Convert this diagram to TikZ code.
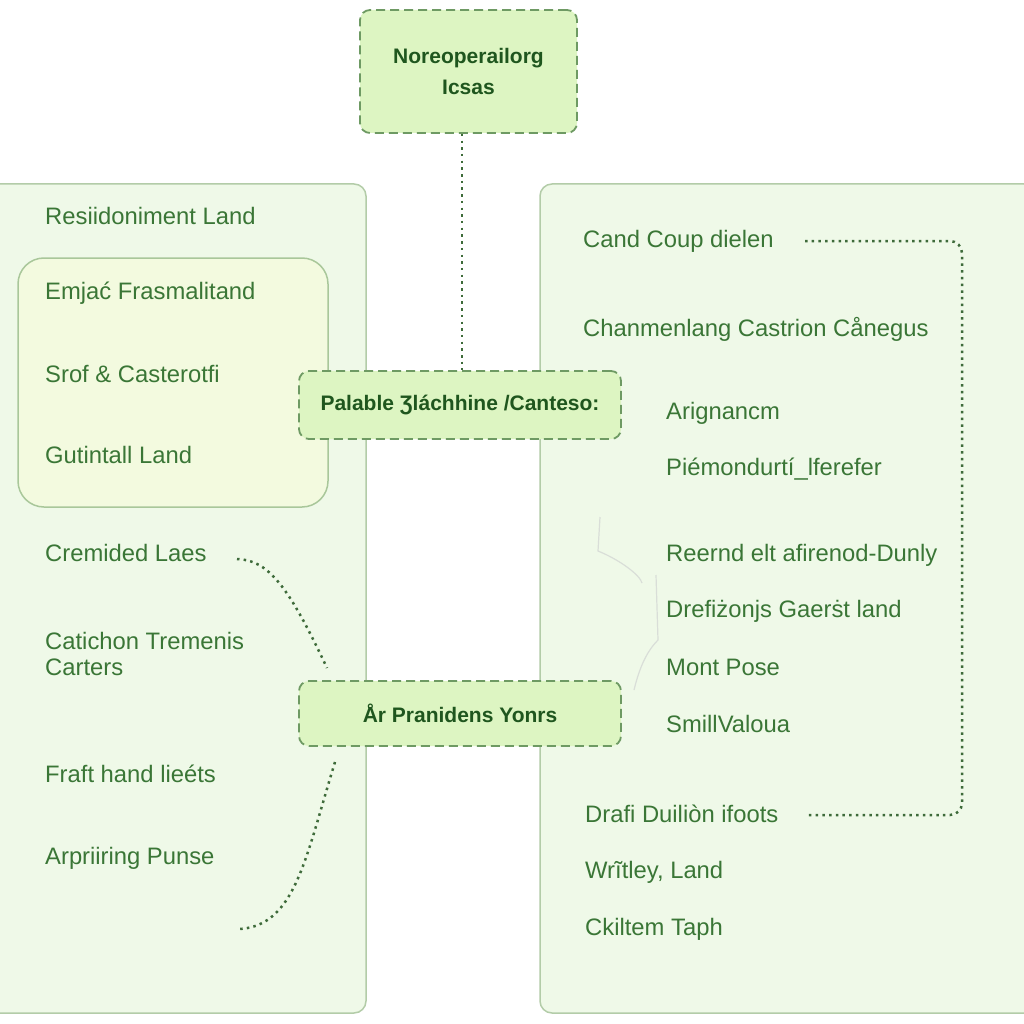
\documentclass[tikz,border=0pt]{standalone}
\usepackage{fontspec}
\setmainfont{Liberation Sans}
\definecolor{panelfill}{HTML}{EFF9E8}
\definecolor{paneldraw}{HTML}{B3CCA8}
\definecolor{innerfill}{HTML}{F3FADF}
\definecolor{innerdraw}{HTML}{A9C79A}
\definecolor{boxfill}{HTML}{DDF5C2}
\definecolor{boxdraw}{HTML}{6E9A63}
\definecolor{txt}{HTML}{3A7636}
\definecolor{boldtxt}{HTML}{1F561E}
\definecolor{dotc}{HTML}{3E6B3A}
\definecolor{faint}{HTML}{D9DED8}
\begin{document}
\begin{tikzpicture}[x=1pt,y=-1pt,
  panel/.style={fill=panelfill,draw=paneldraw,line width=1.5pt,rounded corners=12pt},
  innerbox/.style={fill=innerfill,draw=innerdraw,line width=1.5pt,rounded corners=26pt},
  dbox/.style={fill=boxfill,draw=boxdraw,line width=1.8pt,dash pattern=on 9pt off 5pt,rounded corners=10pt},
  lbl/.style={anchor=west,inner sep=0pt,text=txt,font=\fontsize{23.8}{26}\selectfont},
  blbl/.style={align=center,inner sep=0pt,text=boldtxt,font=\fontsize{21}{31}\selectfont\bfseries},
  dotline/.style={draw=dotc,line width=2.5pt,dash pattern=on 2.5pt off 4.2pt}]
\useasboundingbox (0,0) rectangle (1024,1024);
\fill[white] (0,0) rectangle (1024,1024);
% panels
\draw[panel] (-14,184) rectangle (366,1013);
\draw[panel] (540,184) rectangle (1036,1013);
\draw[innerbox] (18,258) rectangle (328,507);
% faint scribble
\draw[faint,line width=1.2pt] (600,517) -- (598,551) .. controls (620,560) and (640,575) .. (642,583);
\draw[faint,line width=1.2pt] (656,575) -- (658,640) .. controls (648,650) and (640,665) .. (634,690);
% boxes
\node[dbox,minimum width=217pt,minimum height=123pt] (top) at (468.5,71.5) {};
\node[blbl] at (top.center) {Noreoperailorg\\Icsas};
\node[dbox,minimum width=322pt,minimum height=68pt] (mid1) at (460,405) {};
\node[blbl] at (mid1.center) {Palable Ʒláchhine /Canteso:};
\node[dbox,minimum width=322pt,minimum height=65pt] (mid2) at (460,713.5) {};
\node[blbl] at (mid2.center) {År Pranidens Yonrs};
% left texts
\node[lbl] (l1) at (45,216) {Resiidoniment Land};
\node[lbl] (l2) at (45,293) {Emjać Frasmalitand};
\node[lbl] (l3) at (45,374) {Srof \& Casterotfi};
\node[lbl] (l4) at (45,455) {Gutintall Land};
\node[lbl] (l5) at (45,553) {Cremided Laes};
\node[lbl,align=left] (l6) at (45,654) {Catichon Tremenis\\Carters};
\node[lbl] (l7) at (45,774) {Fraft hand lieéts};
\node[lbl] (l8) at (45,858) {Arpriiring Punse};
% right texts
\node[lbl] (r1) at (583,241) {Cand Coup dielen};
\node[lbl] (r2) at (583,329) {Chanmenlang Castrion Cånegus};
\node[lbl] (r3) at (666,413) {Arignancm};
\node[lbl] (r4) at (666,469) {Piémondurtí\_lferefer};
\node[lbl] (r5) at (666,555) {Reernd elt afirenod-Dunly};
\node[lbl] (r6) at (666,611) {Drefiżonjs Gaerṡt land};
\node[lbl] (r7) at (666,667) {Mont Pose};
\node[lbl] (r8) at (666,724) {SmillValoua};
\node[lbl] (r9) at (585,814) {Drafi Duiliòn ifoots};
\node[lbl] (r10) at (585,872) {Wrĩtley, Land};
\node[lbl] (r11) at (585,929) {Ckiltem Taph};
% connectors
\draw[dotline] (top.south -| 462,0) -- (mid1.north -| 462,0);
\coordinate (a1) at (237,559);
\coordinate (a2) at (327,668);
\draw[dotline] (a1) .. controls (268,560) and (288,585) .. (a2);
\coordinate (b1) at (335,762);
\coordinate (b2) at (240,929);
\draw[dotline] (b1) .. controls (305,860) and (295,925) .. (b2);
\coordinate (c1) at (805,241);
\coordinate (c2) at (808,815);
\draw[dotline,rounded corners=12pt] (c1) -- (962,241) -- (962,815) -- (c2);
\end{tikzpicture}
\end{document}
